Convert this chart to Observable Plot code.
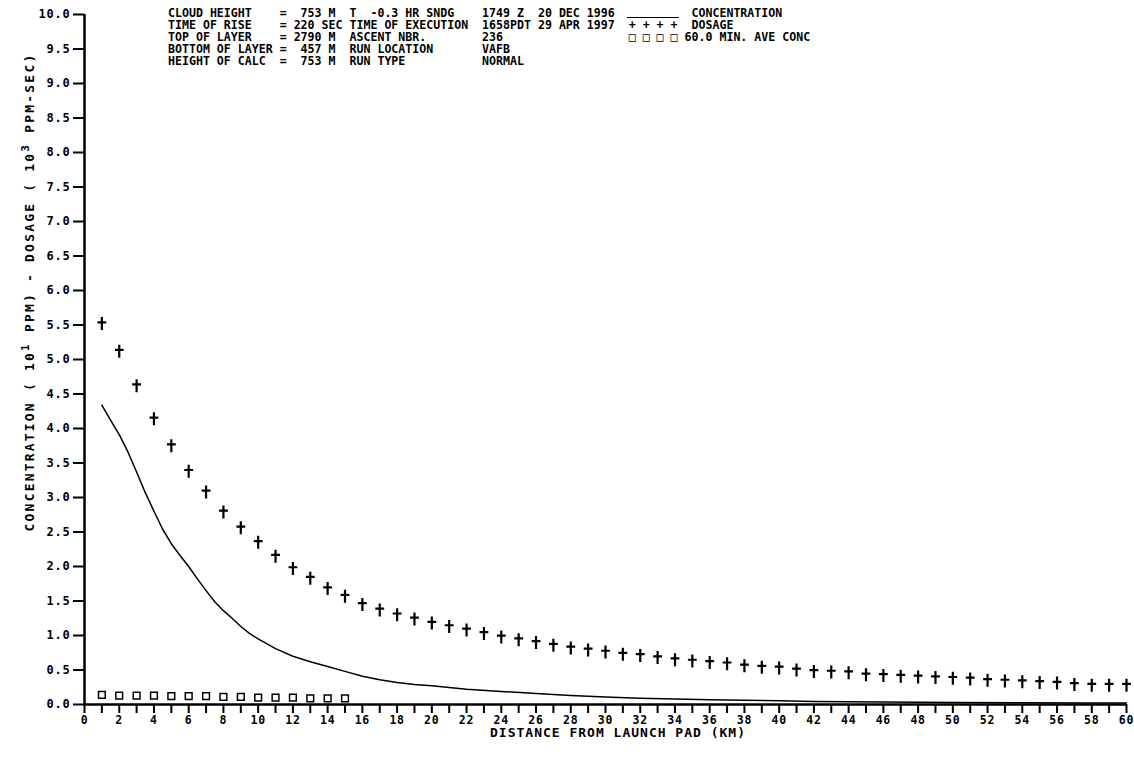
<!DOCTYPE html>
<html><head><meta charset="utf-8">
<script src="https://cdn.jsdelivr.net/npm/d3@7"></script>
<script src="https://cdn.jsdelivr.net/npm/@observablehq/plot@0.6"></script>
<style>
body{margin:0;background:#fff;}
#wrap{position:relative;width:1134px;height:775px;font-family:"DejaVu Sans Mono",monospace;font-weight:bold;color:#000;overflow:hidden;}
#wrap svg{position:absolute;left:0;top:0;}
#wrap svg text{letter-spacing:0.8px;}
.t{position:absolute;white-space:pre;font-size:11.6px;line-height:12px;}
</style></head><body><div id="wrap"></div>
<script>
// ---- data ----
const distKm = [1,2,3,4,5,6,7,8,9,10,11,12,13,14,15,16,17,18,19,20,21,22,23,24,25,26,27,28,29,30,31,32,33,34,35,36,37,38,39,40,41,42,43,44,45,46,47,48,49,50,51,52,53,54,55,56,57,58,59,60];
const dosage = [5.52,5.12,4.62,4.14,3.75,3.38,3.08,2.79,2.56,2.35,2.15,1.97,1.83,1.68,1.57,1.45,1.37,1.30,1.24,1.18,1.13,1.08,1.03,0.98,0.94,0.90,0.86,0.82,0.79,0.76,0.73,0.71,0.68,0.65,0.63,0.61,0.59,0.56,0.54,0.53,0.50,0.48,0.47,0.46,0.43,0.42,0.41,0.40,0.39,0.38,0.37,0.35,0.34,0.33,0.32,0.31,0.29,0.28,0.28,0.28];
const concKm = [1,1.5,2,2.5,3,3.5,4,4.5,5,5.5,6,6.5,7,7.5,8,8.5,9,9.5,10,11,12,13,14,15,16,17,18,19,20,22,24,26,28,30,32,34,36,38,40,42,46,50,54,58,60];
const concVal = [4.34,4.12,3.91,3.66,3.37,3.07,2.80,2.54,2.33,2.16,2.00,1.82,1.65,1.49,1.36,1.25,1.13,1.03,0.95,0.81,0.70,0.62,0.55,0.48,0.41,0.36,0.32,0.29,0.27,0.22,0.19,0.16,0.13,0.11,0.09,0.08,0.07,0.06,0.055,0.045,0.035,0.03,0.025,0.02,0.02];
const aveKm = [1,2,3,4,5,6,7,8,9,10,11,12,13,14,15];
const aveVal = [0.14,0.13,0.13,0.13,0.12,0.12,0.12,0.11,0.11,0.10,0.10,0.10,0.09,0.09,0.09];
const yTicks = [0,0.5,1,1.5,2,2.5,3,3.5,4,4.5,5,5.5,6,6.5,7,7.5,8,8.5,9,9.5,10];
const xTicks = [0,1,2,3,4,5,6,7,8,9,10,11,12,13,14,15,16,17,18,19,20,21,22,23,24,25,26,27,28,29,30,31,32,33,34,35,36,37,38,39,40,41,42,43,44,45,46,47,48,49,50,51,52,53,54,55,56,57,58,59,60];
const xLabelTicks = [0,2,4,6,8,10,12,14,16,18,20,22,24,26,28,30,32,34,36,38,40,42,44,46,48,50,52,54,56,58,60];

const hdrLabels = ["CLOUD HEIGHT","TIME OF RISE","TOP OF LAYER","BOTTOM OF LAYER","HEIGHT OF CALC"];
const hdrValues = ["=  753 M","= 220 SEC","= 2790 M","=  457 M","=  753 M"];
const hdrLabels2 = ["T  -0.3 HR SNDG","TIME OF EXECUTION","ASCENT NBR.","RUN LOCATION","RUN TYPE"];
const hdrValues2 = ["1749 Z","1658PDT","236","VAFB","NORMAL"];
const hdrDates = ["20 DEC 1996","29 APR 1997","","",""];
const legendMarks = ["","+ + + +","\u25A1 \u25A1 \u25A1 \u25A1","",""];
const legendNames = ["CONCENTRATION","DOSAGE","60.0 MIN. AVE CONC","",""];

// ---- tables ----
const dose = distKm.map((k,i)=>({km:k, v:dosage[i]}));
const conc = concKm.map((k,i)=>({km:k, v:concVal[i]}));
const ave = aveKm.map((k,i)=>({km:k, v:aveVal[i]}));

const dagger = {draw(ctx,size){const r=Math.sqrt(size/Math.PI);
  ctx.moveTo(0,-r); ctx.lineTo(0,r);
  ctx.moveTo(-0.68*r,-0.2*r); ctx.lineTo(0.68*r,-0.2*r);}};

const chart = Plot.plot({
  width:1134, height:775,
  marginLeft:84, marginRight:8, marginTop:14, marginBottom:71,
  style:{fontFamily:"DejaVu Sans Mono, monospace", fontWeight:"bold", background:"white", color:"black", overflow:"visible"},
  x:{domain:[0,60]},
  y:{domain:[0,10]},
  marks:[
    Plot.axisY({ticks:yTicks, tickSize:11, tickPadding:3, tickFormat:d=>d.toFixed(1), label:null, fontSize:12, strokeWidth:2}),
    Plot.axisX({ticks:xTicks, tickSize:9, tickPadding:2, tickFormat:d=> xLabelTicks.includes(d) ? String(d) : "", label:null, fontSize:11.5, strokeWidth:2}),
    Plot.ruleX([0],{y1:0, y2:10, strokeWidth:2.5}),
    Plot.ruleY([0],{x1:0, x2:60, strokeWidth:2.5}),
    Plot.line(conc,{x:"km", y:"v", stroke:"black", strokeWidth:1.5}),
    Plot.dot(ave,{x:"km", y:"v", symbol:"square", r:3.8, fill:"white", stroke:"black", strokeWidth:1.5}),
    Plot.dot(dose,{x:"km", y:"v", symbol:dagger, r:6.5, fill:"none", stroke:"black", strokeWidth:2.2})
  ]
});
const wrap = document.getElementById("wrap");
wrap.appendChild(chart);

// header: monospace columns (character positions)
function place(parts){
  let s = "";
  for (const [c, txt] of parts){ if (!txt) continue; s = s.padEnd(c, " ") + txt; }
  return s;
}
const rows = hdrLabels.map((lab,i)=>place([
  [0, lab],[16, hdrValues[i]],[26, hdrLabels2[i]],[45, hdrValues2[i]],
  [53, hdrDates[i]],[66, legendMarks[i]],[i===2?74:75, legendNames[i]]
]));
const hdr = document.createElement("div");
hdr.className = "t";
hdr.style.left = "168px"; hdr.style.top = "7px";
hdr.textContent = rows.join("\n");
wrap.appendChild(hdr);
// legend line for concentration
const ln = document.createElement("div");
ln.style.cssText = "position:absolute;left:627px;top:17px;width:52px;height:0;border-top:1.5px solid #000;";
wrap.appendChild(ln);

// y-axis title (rotated)
const yt = document.createElement("div");
const W = 520;
yt.style.cssText = "position:absolute;white-space:pre;font-size:13px;letter-spacing:2.2px;width:"+W+"px;text-align:center;left:" + (30-W/2) + "px;top:" + (292-9) + "px;height:18px;line-height:18px;transform:rotate(-90deg);transform-origin:"+(W/2)+"px 9px;";
yt.innerHTML = "CONCENTRATION ( 10<sup style='font-size:11px;line-height:0'>1</sup> PPM) - DOSAGE ( 10<sup style='font-size:11px;line-height:0'>3</sup> PPM-SEC)";
wrap.appendChild(yt);

// x-axis title
const xt = document.createElement("div");
xt.style.cssText = "position:absolute;white-space:pre;font-size:13px;letter-spacing:1px;left:490px;top:725px;line-height:16px;";
xt.textContent = "DISTANCE FROM LAUNCH PAD (KM)";
wrap.appendChild(xt);
</script></body></html>
